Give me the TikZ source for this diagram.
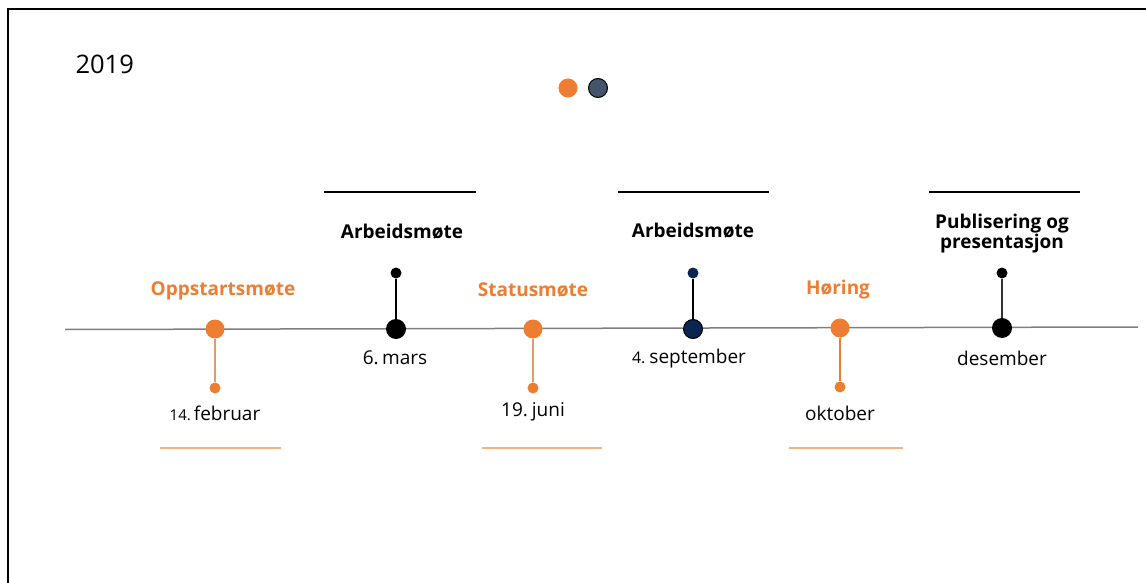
\documentclass[tikz,border=0pt]{standalone}
\usepackage{fontspec}
\setmainfont{Open Sans}
\definecolor{tlorange}{HTML}{ED7D31}
\definecolor{tllight}{HTML}{F4B183}
\definecolor{tlstem}{HTML}{E59868}
\definecolor{tlnavy}{HTML}{0B2551}
\definecolor{tlslate}{HTML}{44546A}
\definecolor{tlgray}{HTML}{7F7F7F}
\begin{document}
\begin{tikzpicture}[x=1pt,y=-1pt,
  bigdot/.style={circle,inner sep=0pt,minimum width=19pt,minimum height=18pt},
  smalldot/.style={circle,inner sep=0pt,minimum size=11pt},
  evtitle/.style={font=\fontsize{19}{20.5}\selectfont\bfseries,align=center},
  evdate/.style={font=\fontsize{19}{22}\selectfont},
  stemline/.style={line width=1.3pt},
  topbar/.style={line width=1.5pt,black},
  underbar/.style={line width=2pt,tllight}]
\useasboundingbox (0,0) rectangle (1146,583);
\fill[white] (0,0) rectangle (1146,583);
% frame
\draw[line width=2.5pt] (8,583) -- (8,9) -- (1146,9);
% year
\node[anchor=west,font=\fontsize{25.5}{30}\selectfont] (year) at (72,64) {2019};
% legend
\node[bigdot,fill=tlorange] (legA) at (568,88) {};
\node[bigdot,fill=tlslate,draw=black,line width=1pt] (legB) at (598,88) {};
% timeline
\coordinate (tlstart) at (65,329.5);
\coordinate (tlend) at (1138,327);
\draw[tlgray,line width=1.5pt] (tlstart) -- (tlend);
% event 1
\node[bigdot,fill=tlorange] (e1) at (215,329) {};
\node[smalldot,fill=tlorange] (e1s) at (215,388) {};
\draw[stemline,tlstem] (e1) -- (e1s);
\node[evtitle,text=tlorange] (t1) at (223,290.5) {Oppstartsmøte};
\node[evdate] (d1) at (215,413) {{\fontsize{15}{18}\selectfont 14.}\hspace{3pt}februar};
\draw[underbar] (160,448) -- (281,448);
% event 2
\node[bigdot,fill=black,minimum width=20pt,minimum height=19pt] (e2) at (396,329) {};
\node[smalldot,fill=black] (e2s) at (396,273) {};
\draw[stemline,black] (e2) -- (e2s);
\node[evtitle] (t2) at (402,231.5) {Arbeidsmøte};
\node[evdate] (d2) at (395,358) {6.\hspace{3.5pt}mars};
\draw[topbar] (324,192) -- (476,192);
% event 3
\node[bigdot,fill=tlorange] (e3) at (533,329) {};
\node[smalldot,fill=tlorange] (e3s) at (533,388) {};
\draw[stemline,tlstem] (e3) -- (e3s);
\node[evtitle,text=tlorange] (t3) at (533,289.5) {Statusmøte};
\node[evdate] (d3) at (533,412) {19.\hspace{4pt}juni};
\draw[underbar] (482,448) -- (602,448);
% event 4
\node[bigdot,fill=tlnavy,draw=black,line width=1pt] (e4) at (693,329) {};
\node[smalldot,fill=tlnavy] (e4s) at (693,273) {};
\draw[stemline,black] (e4) -- (e4s);
\node[evtitle] (t4) at (693,230.5) {Arbeidsmøte};
\node[evdate] (d4) at (689,359) {{\fontsize{16}{19}\selectfont 4.}\hspace{4pt}september};
\draw[topbar] (618,192) -- (769,192);
% event 5
\node[bigdot,fill=tlorange] (e5) at (840,328) {};
\node[smalldot,fill=tlorange] (e5s) at (840,387) {};
\draw[stemline,tlorange] (e5) -- (e5s);
\node[evtitle,text=tlorange] (t5) at (838,289.5) {Høring};
\node[evdate] (d5) at (840,413) {oktober};
\draw[underbar] (789,448) -- (903,448);
% event 6
\node[bigdot,fill=black,minimum width=20pt,minimum height=19pt] (e6) at (1002,328) {};
\node[smalldot,fill=black] (e6s) at (1002,273) {};
\draw[stemline,black!80] (e6) -- (e6s);
\node[evtitle] (t6) at (1002,233.5) {Publisering og\\presentasjon};
\node[evdate] (d6) at (1002,358) {desember};
\draw[topbar] (929,192) -- (1080,192);
\end{tikzpicture}
\end{document}
